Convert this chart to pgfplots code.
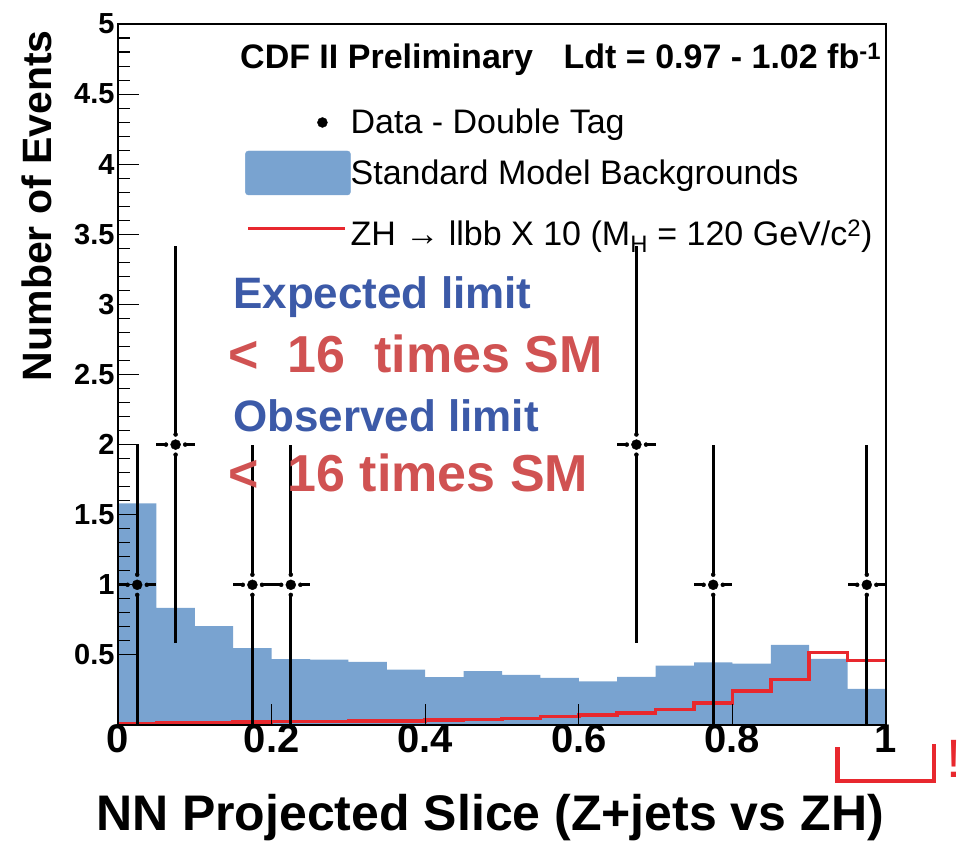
\documentclass[border=0pt]{standalone}
\usepackage{fontspec}
\setmainfont{Liberation Sans}
\usepackage{pgfplots}
\pgfplotsset{compat=1.18}
\usepackage{pgfplotstable}

\definecolor{smblue}{HTML}{79A3D0}
\definecolor{zhred}{HTML}{E8282E}
\definecolor{anblue}{HTML}{3C5AA8}
\definecolor{anred}{HTML}{D05252}

\pgfplotstableread{
x y
0.00 1.580
0.05 0.835
0.10 0.705
0.15 0.548
0.20 0.470
0.25 0.467
0.30 0.450
0.35 0.395
0.40 0.341
0.45 0.385
0.50 0.357
0.55 0.336
0.60 0.312
0.65 0.343
0.70 0.424
0.75 0.447
0.80 0.437
0.85 0.571
0.90 0.471
0.95 0.257
1.00 0.257
}\bkg

\pgfplotstableread{
x y
0.00 0.012
0.05 0.015
0.10 0.015
0.15 0.020
0.20 0.025
0.25 0.025
0.30 0.030
0.35 0.027
0.40 0.035
0.45 0.040
0.50 0.048
0.55 0.062
0.60 0.073
0.65 0.086
0.70 0.109
0.75 0.157
0.80 0.243
0.85 0.326
0.90 0.516
0.95 0.459
1.00 0.459
}\sig

\pgfplotstableread{
x y e
0.025 1 1
0.075 2 1.414
0.175 1 1
0.225 1 1
0.675 2 1.414
0.775 1 1
0.975 1 1
}\data

\begin{document}
\begin{tikzpicture}
\path[use as bounding box] (0pt,0pt) rectangle (969pt,841pt);
\begin{axis}[
  at={(118pt,116pt)}, anchor=south west,
  scale only axis, width=768pt, height=701pt,
  xmin=0, xmax=1, ymin=0, ymax=5,
  axis on top,
  axis line style={line width=1.3pt},
  xtick={0,0.2,0.4,0.6,0.8,1},
  xticklabels={0,0.2,0.4,0.6,0.8,1},
  ytick={0.5,1,1.5,2,2.5,3,3.5,4,4.5,5},
  yticklabels={0.5,1,1.5,2,2.5,3,3.5,4,4.5,5},
  minor y tick num=4,
  xtick pos=bottom, ytick pos=left,
  tick align=inside,
  major tick length=21pt, minor tick length=12pt,
  tick style={line width=1.1pt, black},
  /pgf/number format/assume math mode=true,
  x tick label style={font=\fontsize{40}{40}\selectfont\bfseries, yshift=4pt},
  y tick label style={font=\fontsize{29}{29}\selectfont\bfseries},
  legend style={at={(0.1654,0.9001)}, anchor=north west, draw=none, fill=none,
    inner sep=0pt, row sep=11pt,
    font=\fontsize{34}{34}\selectfont,
    nodes={inner sep=0pt},
    /tikz/every even column/.append style={column sep=18pt}},
  legend cell align=left,
]
\addplot[fill=smblue, draw=none, const plot, forget plot] table[x=x,y=y]{\bkg} \closedcycle;
\addplot[zhred, line width=3.5pt, const plot, forget plot] table[x=x,y=y]{\sig};
% vertical error bars (with gap around marker)
\addplot[only marks, mark=none, forget plot,
  error bars/.cd, y dir=plus, y explicit, error mark=none,
  error bar style={solid, draw=black, line width=3.3pt}]
  table[x=x, y expr=\thisrow{y}+0.072, y error expr=\thisrow{e}-0.072]{\data};
\addplot[only marks, mark=none, forget plot,
  error bars/.cd, y dir=minus, y explicit, error mark=none,
  error bar style={solid, draw=black, line width=3.3pt}]
  table[x=x, y expr=\thisrow{y}-0.072, y error expr=\thisrow{e}-0.072]{\data};
% horizontal error bars
\addplot[only marks, mark=none, forget plot,
  error bars/.cd, x dir=plus, x explicit, error mark=none,
  error bar style={solid, draw=black, line width=3.3pt}]
  table[x expr=\thisrow{x}+0.0125, y=y, x error expr=0.0125]{\data};
\addplot[only marks, mark=none, forget plot,
  error bars/.cd, x dir=minus, x explicit, error mark=none,
  error bar style={solid, draw=black, line width=3.3pt}]
  table[x expr=\thisrow{x}-0.0125, y=y, x error expr=0.0125]{\data};
\addplot[only marks, mark=*, mark size=5pt, black, forget plot] table[x=x,y=y]{\data};

\addlegendimage{legend image code/.code={\fill[black] (77pt,-8pt) circle (5pt);}}
\addlegendentry{\rule[-14pt]{0pt}{53pt}Data - Double Tag}
\addlegendimage{legend image code/.code={\fill[smblue, rounded corners=3pt] (0pt,-29pt) rectangle (105pt,15pt);}}
\addlegendentry{\rule[-14pt]{0pt}{53pt}Standard Model Backgrounds}
\addlegendimage{legend image code/.code={\draw[zhred, line width=3.5pt] (3pt,-2pt) -- (100pt,-2pt);}}
\addlegendentry{\rule[-14pt]{0pt}{53pt}ZH → llbb X 10 (M\textsubscript{H} = 120 GeV/c\textsuperscript{2})}
\end{axis}

% title
\node[anchor=base west, inner sep=0pt, font=\fontsize{34}{34}\selectfont\bfseries]
  at (240pt,772pt) {CDF II Preliminary\hspace{0.9em}Ldt = 0.97 - 1.02 fb\textsuperscript{-1}};
% axis labels
\node[anchor=base east, inner sep=0pt, font=\fontsize{50}{50}\selectfont\bfseries]
  at (884pt,11pt) {NN Projected Slice (Z+jets vs ZH)};
\node[rotate=90, anchor=base east, inner sep=0pt, font=\fontsize{41}{41}\selectfont\bfseries]
  at (51pt,811pt) {Number of Events};
% limit annotations
\node[anchor=base west, inner sep=0pt, text=anblue, font=\fontsize{44}{44}\selectfont\bfseries]
  at (233pt,532pt) {Expected limit};
\node[anchor=base west, inner sep=0pt, text=anred, font=\fontsize{52}{52}\selectfont\bfseries]
  at (228pt,468pt) {<\hspace{0.56em}16\hspace{0.56em}times SM};
\node[anchor=base west, inner sep=0pt, text=anblue, font=\fontsize{44}{44}\selectfont\bfseries]
  at (233pt,409pt) {Observed limit};
\node[anchor=base west, inner sep=0pt, text=anred, font=\fontsize{52}{52}\selectfont\bfseries]
  at (228pt,349pt) {<\hspace{0.56em}16 times SM};
% red bracket mark
\draw[zhred, line width=4.5pt] (837.5pt,94pt) -- (837.5pt,60pt) -- (934pt,60pt) -- (934pt,97pt);
\node[anchor=base, inner sep=0pt, text=zhred, font=\fontsize{54}{54}\selectfont] at (954pt,64pt) {!};
\end{tikzpicture}
\end{document}
